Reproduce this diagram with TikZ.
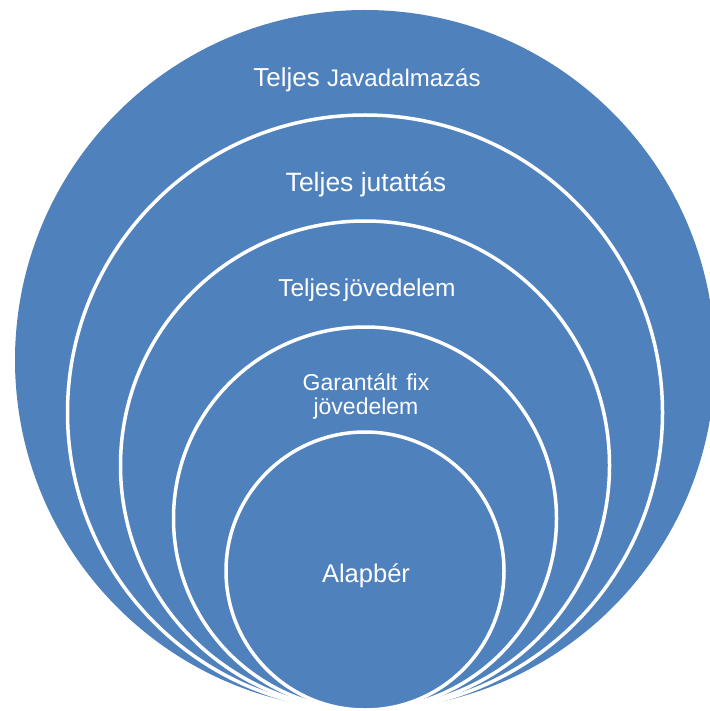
\documentclass[tikz,border=0pt]{standalone}
\usepackage{fontspec}
\setmainfont{Liberation Sans}
\definecolor{ringblue}{RGB}{79,129,189}
\begin{document}
\begin{tikzpicture}[x=1pt,y=-1pt,
  ring/.style={fill=ringblue,draw=white,line width=3.5pt},
  lbl/.style={text=white,inner sep=0pt,anchor=base,align=center}]
\useasboundingbox (0,0) rectangle (709,711);
\fill[ringblue] (365,360) circle (350);
\path[ring] (365,412.5) circle (297.5);
\path[ring] (365,465.5) circle (244.5);
\path[ring] (365,518.5) circle (191.5);
\path[ring] (365,571) circle (139);
\node[lbl] (t1) at (367,87) {\fontsize{26}{30}\selectfont Teljes \fontsize{24}{30}\selectfont Javadalmazás};
\node[lbl] (t2) at (366,192) {\fontsize{26.5}{30}\selectfont Teljes jutattás};
\node[lbl] (t3) at (367,296) {\fontsize{24.5}{30}\selectfont Teljes\hspace{3pt}jövedelem};
\node[lbl,font=\fontsize{23}{24}\selectfont] (t4) at (366,414) {Garantált\hspace{9pt}fix\\ jövedelem};
\node[lbl] (t5) at (366,582) {\fontsize{25.5}{30}\selectfont Alapbér};
\end{tikzpicture}
\end{document}
